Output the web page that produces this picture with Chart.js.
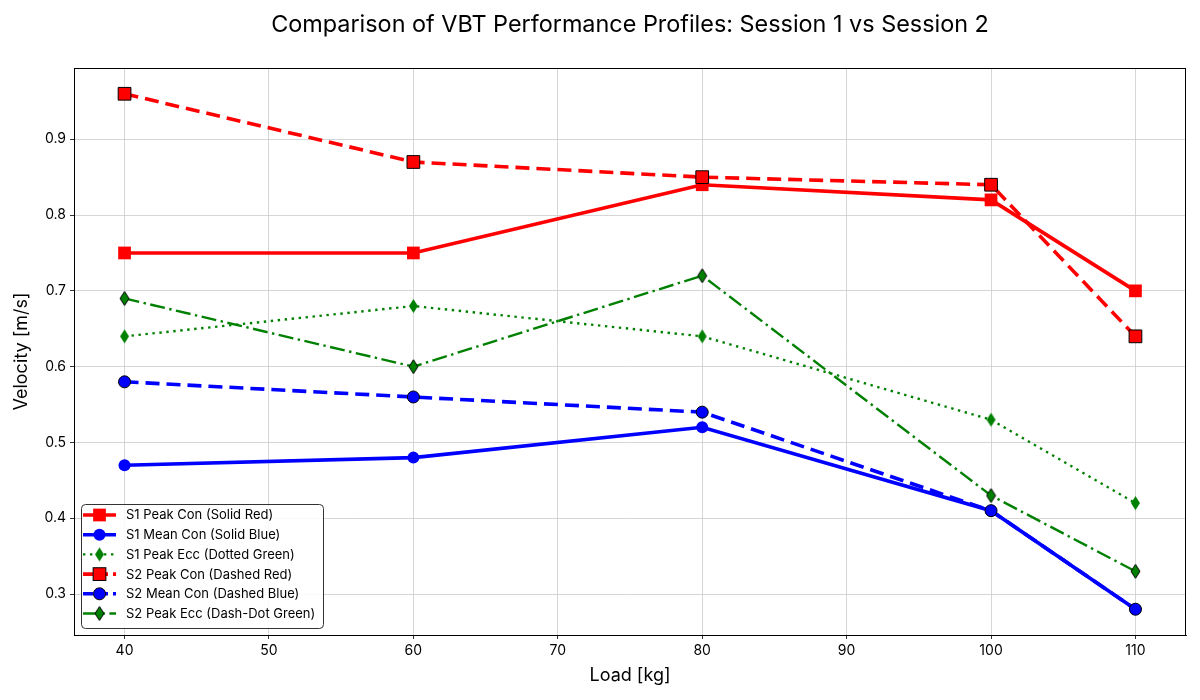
<!DOCTYPE html>
<html>
<head>
<meta charset="utf-8">
<script src="https://cdn.jsdelivr.net/npm/chart.js@4.4.1/dist/chart.umd.min.js"></script>
<style>
  html, body { margin: 0; padding: 0; background: #fff; }
  #wrap { width: 1200px; height: 700px; }
</style>
</head>
<body>
<div id="wrap"><canvas id="myChart" width="1200" height="700"></canvas></div>
<script>
'use strict';
let loads = [40, 60, 80, 100, 110];

let s1PeakCon = [0.75, 0.75, 0.84, 0.82, 0.70];
let s1MeanCon = [0.47, 0.48, 0.52, 0.41, 0.28];
let s1PeakEcc = [0.64, 0.68, 0.64, 0.53, 0.42];
let s2PeakCon = [0.96, 0.87, 0.85, 0.84, 0.64];
let s2MeanCon = [0.58, 0.56, 0.54, 0.41, 0.28];
let s2PeakEcc = [0.69, 0.60, 0.72, 0.43, 0.33];

let seriesNames = ['S1 Peak Con (Solid Red)', 'S1 Mean Con (Solid Blue)', 'S1 Peak Ecc (Dotted Green)',
    'S2 Peak Con (Dashed Red)', 'S2 Mean Con (Dashed Blue)', 'S2 Peak Ecc (Dash-Dot Green)'];

let xTicks = [40, 50, 60, 70, 80, 90, 100, 110];
let yTicks = [0.3, 0.4, 0.5, 0.6, 0.7, 0.8, 0.9];

let titleText = 'Comparison of VBT Performance Profiles: Session 1 vs Session 2';
let fontName = 'Inter, Roboto, sans-serif';

function pairs(values) {
    return loads.map((x, i) => ({ x: x, y: values[i] }));
}

// thin diamond like matplotlib 'd'
function makeDiamond(fill, edge) {
    let c = document.createElement('canvas');
    c.width = 11;
    c.height = 16;
    let g = c.getContext('2d');
    g.beginPath();
    g.moveTo(5.5, 1);
    g.lineTo(10, 8);
    g.lineTo(5.5, 15);
    g.lineTo(1, 8);
    g.closePath();
    g.fillStyle = fill;
    g.fill();
    if (edge) {
        g.strokeStyle = edge;
        g.lineWidth = 1;
        g.stroke();
    }
    return c;
}

let greenDiamond = makeDiamond('#008000', null);
let greenDiamondEdge = makeDiamond('#008000', '#000000');

function series(i, values, color, width, dash, style, radius, edge) {
    return {
        label: seriesNames[i],
        data: pairs(values),
        borderColor: color,
        backgroundColor: color,
        borderWidth: width,
        borderDash: dash,
        borderCapStyle: 'butt',
        pointStyle: style,
        pointRadius: radius,
        pointHoverRadius: radius,
        pointBackgroundColor: color,
        pointBorderColor: edge || color,
        pointBorderWidth: edge ? 1 : 0,
        tension: 0,
        order: 6 - i
    };
}

let datasets = [
    series(0, s1PeakCon, '#ff0000', 3.6, [], 'rect', 9, null),
    series(1, s1MeanCon, '#0000ff', 3.6, [], 'circle', 6, null),
    series(2, s1PeakEcc, '#008000', 2.4, [2.4, 4.6], greenDiamond, 7, null),
    series(3, s2PeakCon, '#ff0000', 3.6, [14, 7], 'rect', 9, '#000000'),
    series(4, s2MeanCon, '#0000ff', 3.6, [14, 7], 'circle', 6, '#000000'),
    series(5, s2PeakEcc, '#008000', 2.4, [15, 4.5, 2.4, 4.5], greenDiamondEdge, 7, '#000000')
];

function drawMarker(ctx, ds, x, y) {
    let st = ds.pointStyle;
    ctx.save();
    ctx.setLineDash([]);
    if (st instanceof HTMLCanvasElement) {
        ctx.drawImage(st, x - st.width / 2, y - st.height / 2);
    } else if (st === 'rect') {
        let s = Math.SQRT1_2 * ds.pointRadius;
        ctx.fillStyle = ds.pointBackgroundColor;
        ctx.fillRect(x - s, y - s, 2 * s, 2 * s);
        if (ds.pointBorderWidth) {
            ctx.strokeStyle = ds.pointBorderColor;
            ctx.lineWidth = ds.pointBorderWidth;
            ctx.strokeRect(x - s, y - s, 2 * s, 2 * s);
        }
    } else {
        ctx.beginPath();
        ctx.arc(x, y, ds.pointRadius, 0, Math.PI * 2);
        ctx.fillStyle = ds.pointBackgroundColor;
        ctx.fill();
        if (ds.pointBorderWidth) {
            ctx.strokeStyle = ds.pointBorderColor;
            ctx.lineWidth = ds.pointBorderWidth;
            ctx.stroke();
        }
    }
    ctx.restore();
}

let framePlugin = {
    id: 'frame',
    afterDraw(chart) {
        let ctx = chart.ctx;
        let a = chart.chartArea;
        ctx.save();
        ctx.strokeStyle = '#000';
        ctx.lineWidth = 1;
        ctx.strokeRect(a.left + 0.5, a.top + 0.5, a.right - a.left - 1, a.bottom - a.top);

        // title centred over the axes
        ctx.fillStyle = '#000';
        ctx.font = '23.4px ' + fontName;
        ctx.textAlign = 'center';
        ctx.textBaseline = 'middle';
        ctx.fillText(titleText, (a.left + a.right) / 2, 25);
        ctx.restore();
    }
};

let legendPlugin = {
    id: 'boxLegend',
    afterDraw(chart) {
        let ctx = chart.ctx;
        let a = chart.chartArea;
        let bx = a.left + 7, by = a.bottom - 131, bw = 242, bh = 124;
        ctx.save();
        ctx.beginPath();
        ctx.roundRect(bx + 0.5, by + 0.5, bw, bh, 4);
        ctx.fillStyle = 'rgba(255,255,255,0.85)';
        ctx.fill();
        ctx.strokeStyle = '#333';
        ctx.lineWidth = 1;
        ctx.stroke();

        ctx.font = '13px ' + fontName;
        ctx.textBaseline = 'middle';
        ctx.textAlign = 'left';
        chart.data.datasets.forEach((ds, i) => {
            let y = by + 11 + i * 19.7;
            ctx.save();
            ctx.beginPath();
            ctx.strokeStyle = ds.borderColor;
            ctx.lineWidth = ds.borderWidth;
            ctx.lineCap = 'butt';
            ctx.setLineDash(ds.borderDash.length === 2 && ds.borderDash[0] > 5 ? [10, 5] : ds.borderDash);
            ctx.moveTo(bx + 2, y);
            ctx.lineTo(bx + 35, y);
            ctx.stroke();
            ctx.restore();
            drawMarker(ctx, ds, bx + 18.5, y);
            ctx.fillStyle = '#000';
            ctx.fillText(ds.label, bx + 45, y + 0.5);
        });
        ctx.restore();
    }
};

let ctx = document.getElementById('myChart').getContext('2d');
let myChart = new Chart(ctx, {
    type: 'line',
    data: { datasets: datasets },
    options: {
        responsive: false,
        animation: false,
        devicePixelRatio: 1,
        layout: { padding: { top: 68, right: 14, left: 0, bottom: 0 } },
        plugins: {
            legend: { display: false },
            title: { display: false },
            tooltip: { enabled: false }
        },
        scales: {
            x: {
                type: 'linear',
                min: 36.5,
                max: 113.5,
                afterFit: (scale) => { scale.height = 65; },
                afterBuildTicks: (scale) => { scale.ticks = xTicks.map(v => ({ value: v })); },
                ticks: {
                    color: '#000',
                    font: { family: fontName, size: 14 },
                    padding: 3,
                    maxRotation: 0,
                    callback: (v) => String(v)
                },
                grid: { color: '#cccccc', lineWidth: 0.8, tickColor: '#000', tickLength: 4 },
                border: { color: '#000', width: 1 },
                title: {
                    display: true,
                    text: 'Load [kg]',
                    color: '#000',
                    font: { family: fontName, size: 18 },
                    padding: { top: 0, bottom: 14 }
                }
            },
            y: {
                type: 'linear',
                min: 0.246,
                max: 0.994,
                afterFit: (scale) => { scale.width = 74; },
                afterBuildTicks: (scale) => { scale.ticks = yTicks.map(v => ({ value: v })); },
                ticks: {
                    color: '#000',
                    font: { family: fontName, size: 14 },
                    padding: 4,
                    callback: (v) => v.toFixed(1)
                },
                grid: { color: '#cccccc', lineWidth: 0.8, tickColor: '#000', tickLength: 4 },
                border: { color: '#000', width: 1 },
                title: {
                    display: true,
                    text: 'Velocity [m/s]',
                    color: '#000',
                    font: { family: fontName, size: 18 },
                    padding: { top: 11, bottom: 0 }
                }
            }
        }
    },
    plugins: [framePlugin, legendPlugin]
});
</script>
</body>
</html>
